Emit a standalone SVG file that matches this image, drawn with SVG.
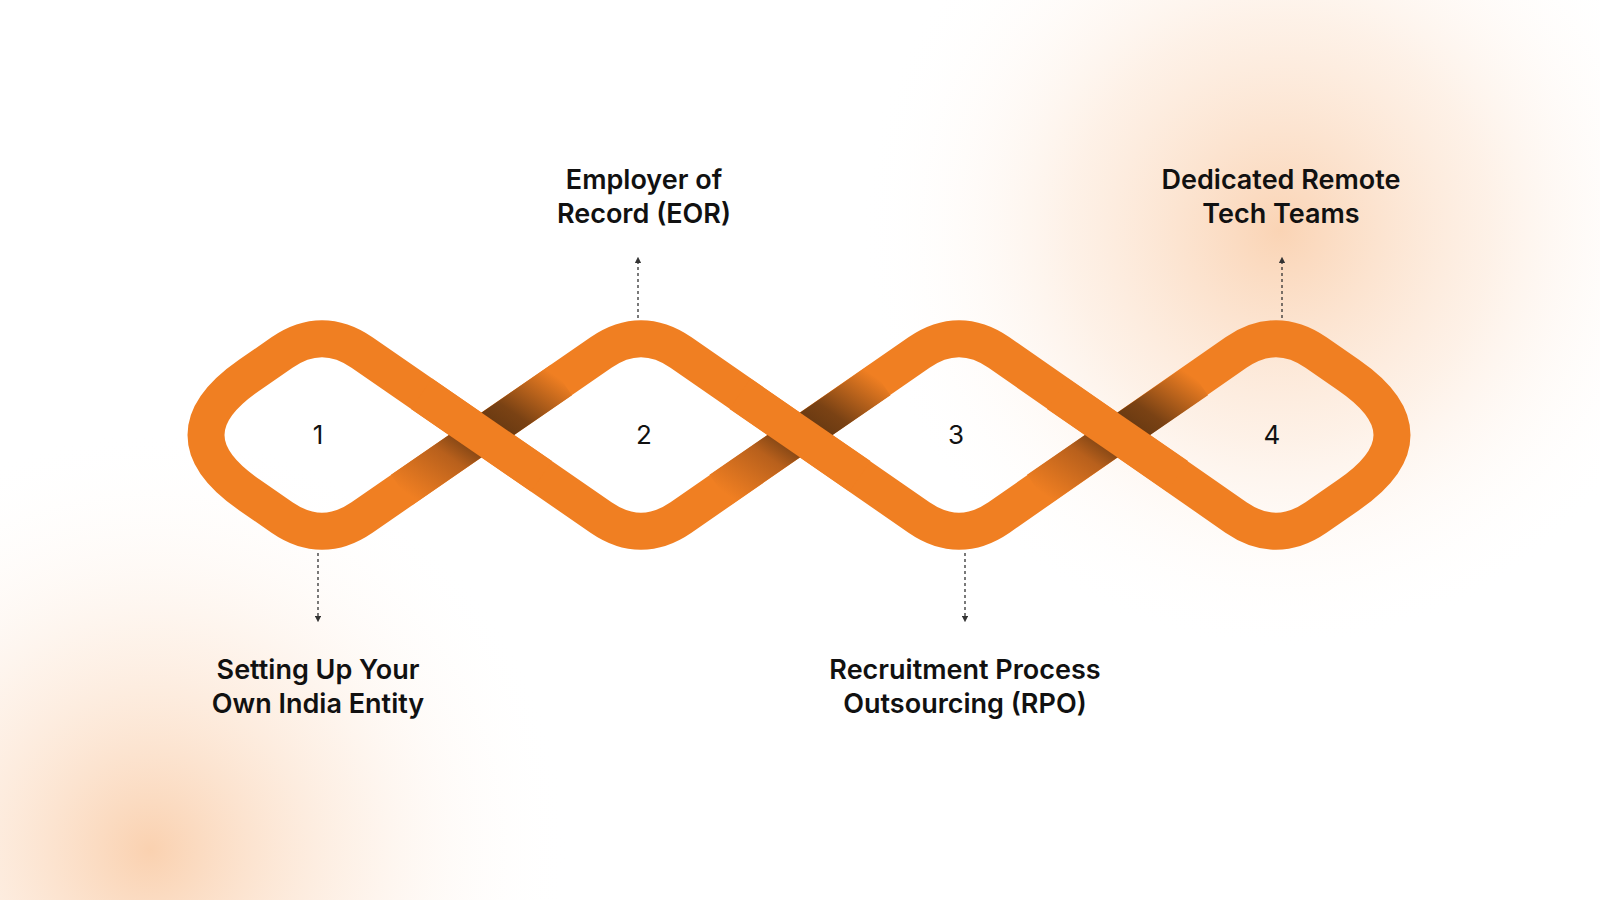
<svg xmlns="http://www.w3.org/2000/svg" width="1600" height="900" viewBox="0 0 1600 900">
<defs>
<radialGradient id="g1" cx="1280" cy="230" r="420" gradientUnits="userSpaceOnUse"><stop offset="0" stop-color="#F9C9A2" stop-opacity="0.8"/><stop offset="0.5" stop-color="#FCE3CF" stop-opacity="0.5"/><stop offset="1" stop-color="#fff" stop-opacity="0"/></radialGradient>
<radialGradient id="g2" cx="150" cy="850" r="420" gradientUnits="userSpaceOnUse"><stop offset="0" stop-color="#F9C9A2" stop-opacity="0.85"/><stop offset="0.5" stop-color="#FCE3CF" stop-opacity="0.45"/><stop offset="1" stop-color="#fff" stop-opacity="0"/></radialGradient>
<linearGradient id="sh" x1="0" y1="1" x2="1" y2="0"><stop offset="0" stop-color="#F07F22"/><stop offset="0.3" stop-color="#B8601C"/><stop offset="0.5" stop-color="#5E3410"/><stop offset="0.7" stop-color="#7A4214"/><stop offset="1" stop-color="#F07F22"/></linearGradient>
<marker id="au" viewBox="0 0 6 6" refX="3" refY="3" markerWidth="5" markerHeight="5" orient="auto"><path d="M0,0 L6,3 L0,6 z" fill="#333"/></marker>
<style>
.band{fill:none;stroke:#F07F22;stroke-width:37}
.lbl{font-family:Inter,"Noto Sans",sans-serif;font-weight:600;font-size:27px;fill:#111;text-anchor:middle}
.num{font-family:Inter,"Noto Sans",sans-serif;font-size:26px;fill:#111;text-anchor:middle}
.dl{stroke:#333;stroke-width:1.3;stroke-dasharray:3 3;marker-end:url(#au)}
</style>
</defs>
<rect width="1600" height="900" fill="#fff"/>
<rect width="1600" height="900" fill="url(#g1)"/>
<rect width="1600" height="900" fill="url(#g2)"/>
<g id="chain">
<path class="band" d="M249.5,375 L282,352.5 Q322,325 362,352.5 L601,517.5 Q641,545 681,517.5 L919,352.5 Q959,325 999,352.5 L1236,517.5 Q1276,545 1316,517.5 L1348.5,495 Q1435.5,435 1348.5,375 L1316,352.5 Q1276,325 1236,352.5 L999,517.5 Q959,545 919,517.5 L681,352.5 Q641,325 601,352.5 L362,517.5 Q322,545 282,517.5 L249.5,495 Q162.5,435 249.5,375 Z"/>
<line x1="401.5" y1="490" x2="561.5" y2="380" stroke="url(#sh)" stroke-width="37"/>
<line x1="720" y1="490" x2="880" y2="380" stroke="url(#sh)" stroke-width="37"/>
<line x1="1037.5" y1="490" x2="1197.5" y2="380" stroke="url(#sh)" stroke-width="37"/>
<line x1="421.5" y1="393.75" x2="541.5" y2="476.25" stroke="#F07F22" stroke-width="37"/>
<line x1="740" y1="393.75" x2="860" y2="476.25" stroke="#F07F22" stroke-width="37"/>
<line x1="1057.5" y1="393.75" x2="1177.5" y2="476.25" stroke="#F07F22" stroke-width="37"/>
</g>
<g id="connectors">
<line class="dl" x1="638" y1="318" x2="638" y2="260"/>
<line class="dl" x1="1282" y1="318" x2="1282" y2="260"/>
<line class="dl" x1="318" y1="553" x2="318" y2="619"/>
<line class="dl" x1="965" y1="553" x2="965" y2="619"/>
</g>
<g id="node1"><text class="num" x="318" y="444">1</text><text class="lbl" x="318" y="679">Setting Up Your</text><text class="lbl" x="318" y="713">Own India Entity</text></g>
<g id="node2"><text class="num" x="644" y="444">2</text><text class="lbl" x="644" y="189">Employer of</text><text class="lbl" x="644" y="223">Record (EOR)</text></g>
<g id="node3"><text class="num" x="956" y="444">3</text><text class="lbl" x="965" y="679">Recruitment Process</text><text class="lbl" x="965" y="713">Outsourcing (RPO)</text></g>
<g id="node4"><text class="num" x="1272" y="444">4</text><text class="lbl" x="1281" y="189">Dedicated Remote</text><text class="lbl" x="1281" y="223">Tech Teams</text></g>
</svg>
